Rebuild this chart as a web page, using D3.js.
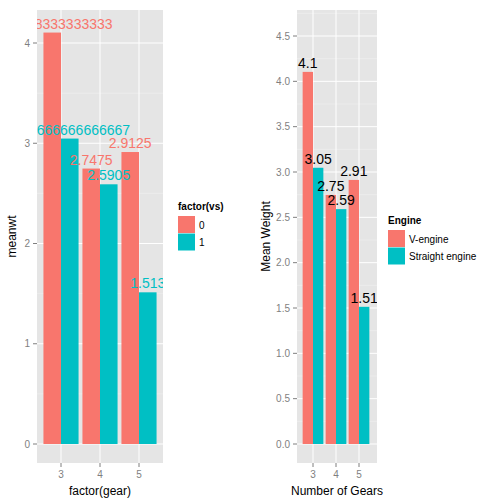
<!DOCTYPE html><html><head><script src="https://cdn.jsdelivr.net/npm/d3@7"></script>
<style>body{margin:0;background:#fff}text{font-family:"Liberation Sans",Arial,sans-serif}</style></head><body>
<svg id="c" width="504" height="504"></svg>
<script>
const gears=["3","4","5"];
const vsLevels=["0","1"];
const meanwt=[[4.10408333333333,3.04666666666667],[2.7475,2.5905],[2.9125,1.513]];
const roundedLabels=[["4.1","3.05"],["2.75","2.59"],["2.91","1.51"]];
const leftTicks=[0,1,2,3,4];
const rightTicks=[0,0.5,1,1.5,2,2.5,3,3.5,4,4.5];
const engineNames=["V-engine","Straight engine"];
const colors=["#F8766D","#00BFC4"];
const svg=d3.select("#c");
function panel(o){
  const g=svg.append("g");
  const xc=d3.scalePoint().domain(gears).range([o.c0,o.c1]);
  const bw=(o.c1-o.c0)/2*0.9;
  const y=d3.scaleLinear().domain([0,o.ymax1]).range([o.y0,o.y1]);
  g.append("rect").attr("x",o.x0).attr("y",o.top).attr("width",o.x1-o.x0).attr("height",o.bot-o.top).attr("fill","#E5E5E5");
  const minor=[];for(let i=0;i<o.ticks.length-1;i++)minor.push((o.ticks[i]+o.ticks[i+1])/2);
  minor.push(o.ticks[o.ticks.length-1]+(o.ticks[1]-o.ticks[0])/2);
  minor.filter(v=>y(v)>o.top).forEach(v=>g.append("line").attr("x1",o.x0).attr("x2",o.x1).attr("y1",y(v)).attr("y2",y(v)).attr("stroke","#F2F2F2").attr("stroke-width",0.5));
  o.ticks.forEach(v=>g.append("line").attr("x1",o.x0).attr("x2",o.x1).attr("y1",y(v)).attr("y2",y(v)).attr("stroke","#fff").attr("stroke-width",1));
  gears.forEach(c=>g.append("line").attr("x1",xc(c)).attr("x2",xc(c)).attr("y1",o.top).attr("y2",o.bot).attr("stroke","#fff").attr("stroke-width",1));
  const clip="clip"+o.id;
  svg.append("clipPath").attr("id",clip).append("rect").attr("x",o.x0).attr("y",o.top).attr("width",o.x1-o.x0).attr("height",o.bot-o.top);
  const pg=g.append("g").attr("clip-path",`url(#${clip})`);
  gears.forEach((c,i)=>vsLevels.forEach((v,j)=>{
    const xl=xc(c)-bw/2+j*bw/2;
    pg.append("rect").attr("x",xl).attr("width",bw/2).attr("y",y(meanwt[i][j])).attr("height",y(0)-y(meanwt[i][j])).attr("fill",colors[j]);
  }));
  gears.forEach((c,i)=>vsLevels.forEach((v,j)=>{
    const xl=xc(c)-bw/2+j*bw/2;
    pg.append("text").attr("x",xl+bw/4).attr("y",y(meanwt[i][j])-4).attr("text-anchor","middle").attr("font-size",o.labSize)
      .attr("fill",o.labColor?colors[j]:"#000").text(o.labels[i][j]);
  }));
  o.ticks.forEach(v=>{
    g.append("line").attr("x1",o.x0-4).attr("x2",o.x0).attr("y1",y(v)).attr("y2",y(v)).attr("stroke","#7F7F7F");
    g.append("text").attr("x",o.x0-7).attr("y",y(v)+3.5).attr("text-anchor","end").attr("font-size",10).attr("fill","#7F7F7F").text(o.fmt(v));
  });
  gears.forEach(c=>{
    g.append("line").attr("x1",xc(c)).attr("x2",xc(c)).attr("y1",o.bot).attr("y2",o.bot+4).attr("stroke","#7F7F7F");
    g.append("text").attr("x",xc(c)).attr("y",o.bot+15).attr("text-anchor","middle").attr("font-size",10).attr("fill","#7F7F7F").text(c);
  });
  g.append("text").attr("x",(o.x0+o.x1)/2).attr("y",495).attr("text-anchor","middle").attr("font-size",12).text(o.xlab);
  g.append("text").attr("transform",`translate(${o.ylabX},${(o.top+o.bot)/2}) rotate(-90)`).attr("text-anchor","middle").attr("font-size",12).text(o.ylab);
  g.append("text").attr("x",o.lx).attr("y",o.ly).attr("font-size",10).attr("font-weight","bold").text(o.ltitle);
  o.lnames.forEach((n,j)=>{
    g.append("rect").attr("x",o.lx).attr("y",o.ly+6+j*17.5).attr("width",17).attr("height",17).attr("fill",colors[j]);
    g.append("text").attr("x",o.lx+21).attr("y",o.ly+18.5+j*17.5).attr("font-size",10).text(n);
  });
}
panel({id:1,x0:37,x1:163,c0:61,c1:139,top:10,bot:463,y0:444,y1:43,ymax1:4,ticks:leftTicks,fmt:d=>d,labels:meanwt.map(r=>r.map(String)),labColor:true,labSize:14,
  xlab:"factor(gear)",ylab:"meanwt",ylabX:16,lx:178,ly:210,ltitle:"factor(vs)",lnames:vsLevels});
panel({id:2,x0:297,x1:377,c0:313,c1:359,top:10,bot:463,y0:444,y1:36,ymax1:4.5,ticks:rightTicks,fmt:d3.format(".1f"),labels:roundedLabels,labColor:false,labSize:14,
  xlab:"Number of Gears",ylab:"Mean Weight",ylabX:270,lx:388,ly:224,ltitle:"Engine",lnames:engineNames});
</script></body></html>
